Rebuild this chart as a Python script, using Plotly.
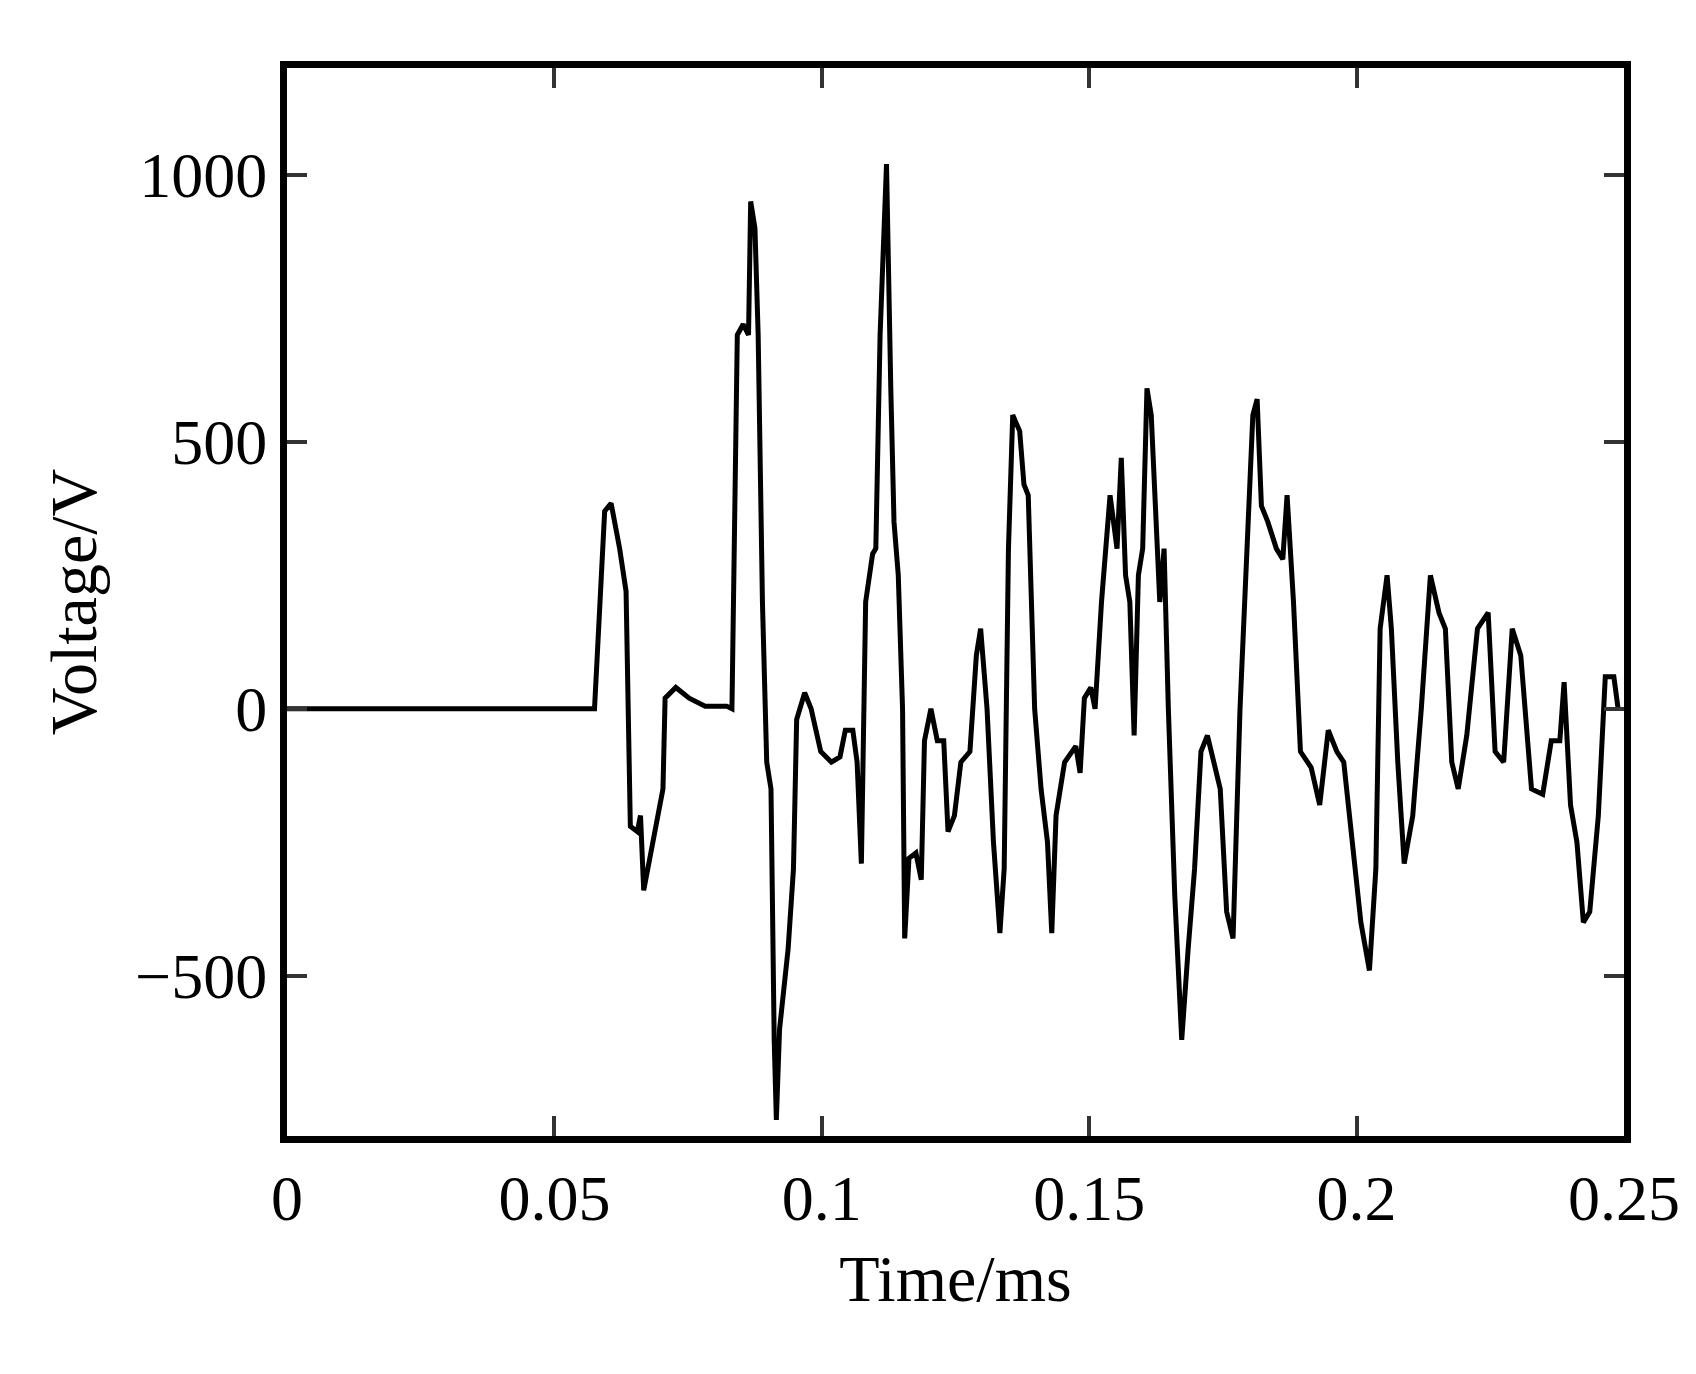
import plotly.graph_objects as go

# Voltage waveform, values
time_ms = [0, 0.0575, 0.0594, 0.0606, 0.0622, 0.0634, 0.0642, 0.0655, 0.0661, 0.0667,
           0.0703, 0.0707, 0.0727, 0.0752, 0.0782, 0.0822, 0.0832, 0.0842, 0.0853, 0.0863,
           0.0867, 0.0875, 0.0881, 0.0889, 0.0897, 0.0905, 0.0911, 0.0915, 0.0921, 0.0937,
           0.0947, 0.0953, 0.0968, 0.0980, 0.0998, 0.1018, 0.1034, 0.1044, 0.1058, 0.1066,
           0.1074, 0.1082, 0.1095, 0.1101, 0.1109, 0.1115, 0.1121, 0.1129, 0.1135, 0.1143,
           0.1151, 0.1155, 0.1163, 0.1176, 0.1186, 0.1192, 0.1204, 0.1216, 0.1228, 0.1236,
           0.1248, 0.1260, 0.1277, 0.1289, 0.1297, 0.1309, 0.1321, 0.1333, 0.1341, 0.1349,
           0.1357, 0.1370, 0.1378, 0.1386, 0.1398, 0.1410, 0.1422, 0.1430, 0.1438, 0.1454,
           0.1475, 0.1483, 0.1491, 0.1503, 0.1511, 0.1523, 0.1539, 0.1552, 0.1560, 0.1568,
           0.1576, 0.1584, 0.1592, 0.1600, 0.1608, 0.1616, 0.1624, 0.1632, 0.1640, 0.1648,
           0.1660, 0.1673, 0.1685, 0.1697, 0.1709, 0.1721, 0.1733, 0.1745, 0.1757, 0.1769,
           0.1782, 0.1794, 0.1806, 0.1814, 0.1822, 0.1834, 0.1850, 0.1862, 0.1870, 0.1882,
           0.1895, 0.1915, 0.1931, 0.1947, 0.1963, 0.1976, 0.1992, 0.2008, 0.2024, 0.2036,
           0.2044, 0.2057, 0.2065, 0.2077, 0.2089, 0.2105, 0.2121, 0.2138, 0.2154, 0.2166,
           0.2178, 0.2190, 0.2206, 0.2226, 0.2246, 0.2259, 0.2275, 0.2291, 0.2307, 0.2327,
           0.2348, 0.2364, 0.2380, 0.2388, 0.2400, 0.2412, 0.2424, 0.2436, 0.2452, 0.2465,
           0.2481, 0.2489]
voltage = [0, 0, 370, 385, 300, 220, -220, -230, -200, -340,
           -150, 20, 40, 20, 5, 5, 0, 700, 720, 700,
           950, 900, 700, 200, -100, -150, -620, -770, -600, -450,
           -300, -20, 30, 0, -80, -100, -90, -40, -40, -100,
           -290, 200, 290, 300, 700, 850, 1020, 600, 350, 250,
           0, -430, -280, -270, -320, -60, 0, -60, -60, -230,
           -200, -100, -80, 100, 150, 0, -250, -420, -300, 300,
           550, 520, 420, 400, 0, -150, -250, -420, -200, -100,
           -70, -120, 20, 40, 0, 200, 400, 300, 470, 250,
           200, -50, 250, 300, 600, 550, 350, 200, 300, 0,
           -350, -620, -450, -300, -80, -50, -100, -150, -380, -430,
           0, 300, 550, 580, 380, 350, 300, 280, 400, 200,
           -80, -110, -180, -40, -80, -100, -250, -400, -490, -300,
           150, 250, 150, -100, -290, -200, 0, 250, 180, 150,
           -100, -150, -50, 150, 180, -80, -100, 150, 100, -150,
           -160, -60, -60, 50, -180, -250, -400, -380, -200, 60,
           60, 0]

x_ticks = [0, 0.05, 0.1, 0.15, 0.2, 0.25]
x_labels = ["0", "0.05", "0.1", "0.15", "0.2", "0.25"]
y_ticks = [-500, 0, 500, 1000]

font = "Liberation Serif"

fig = go.Figure(go.Scatter(x=time_ms, y=voltage, mode="lines",
                           line=dict(color="black", width=5)))

axis_common = dict(showline=True, linecolor="black", linewidth=7, mirror="ticks",
                   ticks="inside", ticklen=20, tickwidth=4, tickcolor="#333",
                   showgrid=False, zeroline=False,
                   tickfont=dict(family=font, size=64, color="black"))

fig.update_xaxes(range=[0, 0.25], tickvals=x_ticks, ticktext=x_labels,
                 title=dict(text="Time/ms", font=dict(family=font, size=66, color="black"),
                            standoff=25), **axis_common)
fig.update_yaxes(range=[-800, 1200], tickvals=y_ticks,
                 title=dict(text="Voltage/V", font=dict(family=font, size=66, color="black"),
                            standoff=20), **axis_common)

fig.update_layout(width=1696, height=1374, plot_bgcolor="white", paper_bgcolor="white",
                  showlegend=False, margin=dict(l=279, r=80, t=60, b=246))

fig.write_html("out.html")
